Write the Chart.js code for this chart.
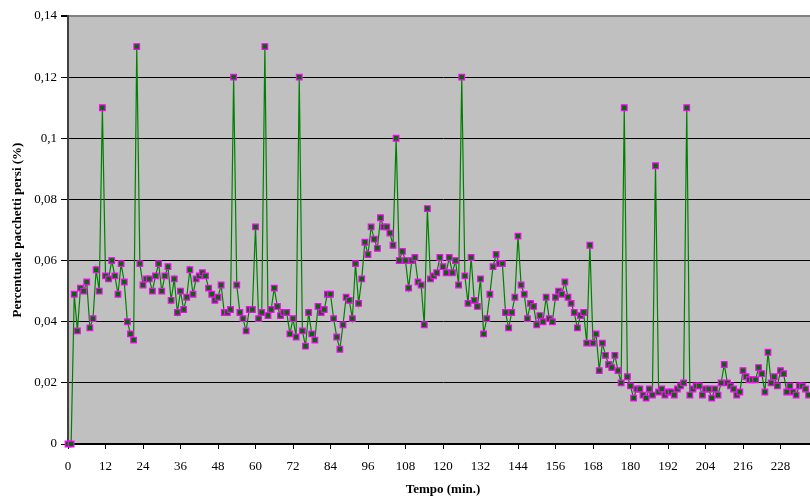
<!DOCTYPE html>
<html>
<head>
<meta charset="utf-8">
<script src="https://cdn.jsdelivr.net/npm/chart.js@4.4.1/dist/chart.umd.min.js"></script>
<style>
  html, body { margin: 0; padding: 0; background: #fff; overflow: hidden; }
  #wrap { width: 810px; height: 499px; overflow: hidden; }
</style>
</head>
<body>
<div id="wrap"><canvas id="loss-chart" width="830" height="499"></canvas></div>
<script>
var ctx = document.getElementById('loss-chart').getContext('2d');

// percentuale pacchetti persi, un valore al minuto
const lossPct = [
  0, 0, 0.049, 0.037, 0.051, 0.050, 0.053, 0.038, 0.041, 0.057,
  0.050, 0.11, 0.055, 0.054, 0.060, 0.055, 0.049, 0.059, 0.053, 0.040,
  0.036, 0.034, 0.13, 0.059, 0.052, 0.054, 0.054, 0.050, 0.055, 0.059,
  0.050, 0.055, 0.058, 0.047, 0.054, 0.043, 0.050, 0.044, 0.048, 0.057,
  0.049, 0.054, 0.055, 0.056, 0.055, 0.051, 0.049, 0.047, 0.048, 0.052,
  0.043, 0.043, 0.044, 0.12, 0.052, 0.043, 0.041, 0.037, 0.044, 0.044,
  0.071, 0.041, 0.043, 0.13, 0.042, 0.044, 0.051, 0.045, 0.042, 0.043,
  0.043, 0.036, 0.041, 0.035, 0.12, 0.037, 0.032, 0.043, 0.036, 0.034,
  0.045, 0.043, 0.044, 0.049, 0.049, 0.041, 0.035, 0.031, 0.039, 0.048,
  0.047, 0.041, 0.059, 0.046, 0.054, 0.066, 0.062, 0.071, 0.067, 0.064,
  0.074, 0.071, 0.071, 0.069, 0.065, 0.10, 0.060, 0.063, 0.060, 0.051,
  0.060, 0.061, 0.053, 0.052, 0.039, 0.077, 0.054, 0.055, 0.056, 0.061,
  0.058, 0.056, 0.061, 0.056, 0.060, 0.052, 0.12, 0.055, 0.046, 0.061,
  0.047, 0.045, 0.054, 0.036, 0.041, 0.049, 0.058, 0.062, 0.059, 0.059,
  0.043, 0.038, 0.043, 0.048, 0.068, 0.052, 0.049, 0.041, 0.046, 0.045,
  0.039, 0.042, 0.040, 0.048, 0.041, 0.040, 0.048, 0.050, 0.049, 0.053,
  0.048, 0.046, 0.043, 0.038, 0.042, 0.043, 0.033, 0.065, 0.033, 0.036,
  0.024, 0.033, 0.029, 0.026, 0.025, 0.029, 0.024, 0.020, 0.11, 0.022,
  0.019, 0.015, 0.018, 0.018, 0.016, 0.015, 0.018, 0.016, 0.091, 0.017,
  0.018, 0.016, 0.017, 0.017, 0.016, 0.018, 0.019, 0.020, 0.11, 0.016,
  0.018, 0.019, 0.019, 0.016, 0.018, 0.018, 0.015, 0.018, 0.016, 0.020,
  0.026, 0.020, 0.019, 0.018, 0.016, 0.017, 0.024, 0.022, 0.021, 0.021,
  0.021, 0.025, 0.023, 0.017, 0.030, 0.020, 0.022, 0.019, 0.024, 0.023,
  0.017, 0.019, 0.017, 0.016, 0.019, 0.019, 0.018, 0.016
];
const minutes = lossPct.map((v, i) => i);

const xTicks = [0, 12, 24, 36, 48, 60, 72, 84, 96, 108, 120, 132, 144, 156, 168, 180, 192, 204, 216, 228];
const yTicks = [0, 0.02, 0.04, 0.06, 0.08, 0.1, 0.12, 0.14];

const serif = "'Liberation Serif', 'Times New Roman', serif";

// sfondo grigio dell'area del grafico
const plotBackground = {
  id: 'plotBackground',
  beforeDraw(chart) {
    const c = chart.ctx, a = chart.chartArea;
    c.save();
    c.fillStyle = '#c0c0c0';
    c.fillRect(a.left, a.top, a.right - a.left, a.bottom - a.top);
    c.restore();
  }
};

new Chart(ctx, {
  type: 'line',
  data: {
    labels: minutes,
    datasets: [{
      data: lossPct,
      borderColor: '#008000',
      borderWidth: 1.2,
      pointStyle: 'rect',
      pointRadius: 4,
      pointBorderWidth: 1.2,
      pointBorderColor: '#ff00ff',
      pointBackgroundColor: '#006a00',
      tension: 0,
      clip: false
    }]
  },
  options: {
    responsive: false,
    animation: false,
    layout: { padding: { left: 0, top: 16, right: 12, bottom: 0 } },
    plugins: { legend: { display: false }, tooltip: { enabled: false } },
    scales: {
      x: {
        type: 'linear',
        min: 0,
        max: 240,
        afterBuildTicks: s => { s.ticks = xTicks.map(v => ({ value: v })); },
        afterFit: s => { s.height = 55; },
        grid: { drawOnChartArea: false, tickLength: 5, tickColor: '#000' },
        border: { color: '#000', width: 1.5 },
        ticks: { color: '#000', font: { family: serif, size: 13 }, padding: 10, maxRotation: 0 },
        title: {
          display: true,
          text: 'Tempo (min.)',
          color: '#000',
          font: { family: serif, size: 13, weight: 'bold' },
          padding: { top: 0, bottom: 2 }
        }
      },
      y: {
        min: 0,
        max: 0.14,
        afterBuildTicks: s => { s.ticks = yTicks.map(v => ({ value: v })); },
        afterFit: s => { s.width = 68; },
        grid: {
          color: c => (c.tick && c.tick.value === 0.14) ? '#808080' : '#000',
          lineWidth: c => (c.tick && c.tick.value === 0.14) ? 2 : 1,
          tickLength: 7,
          tickColor: '#000'
        },
        border: { color: '#404040', width: 2 },
        ticks: {
          color: '#000',
          font: { family: serif, size: 13 },
          padding: 4,
          callback: v => String(v).replace('.', ',')
        },
        title: {
          display: true,
          text: 'Percentuale pacchetti persi (%)',
          color: '#000',
          font: { family: serif, size: 13, weight: 'bold' },
          padding: { top: 10, bottom: 0 }
        }
      }
    }
  },
  plugins: [plotBackground]
});
</script>
</body>
</html>
